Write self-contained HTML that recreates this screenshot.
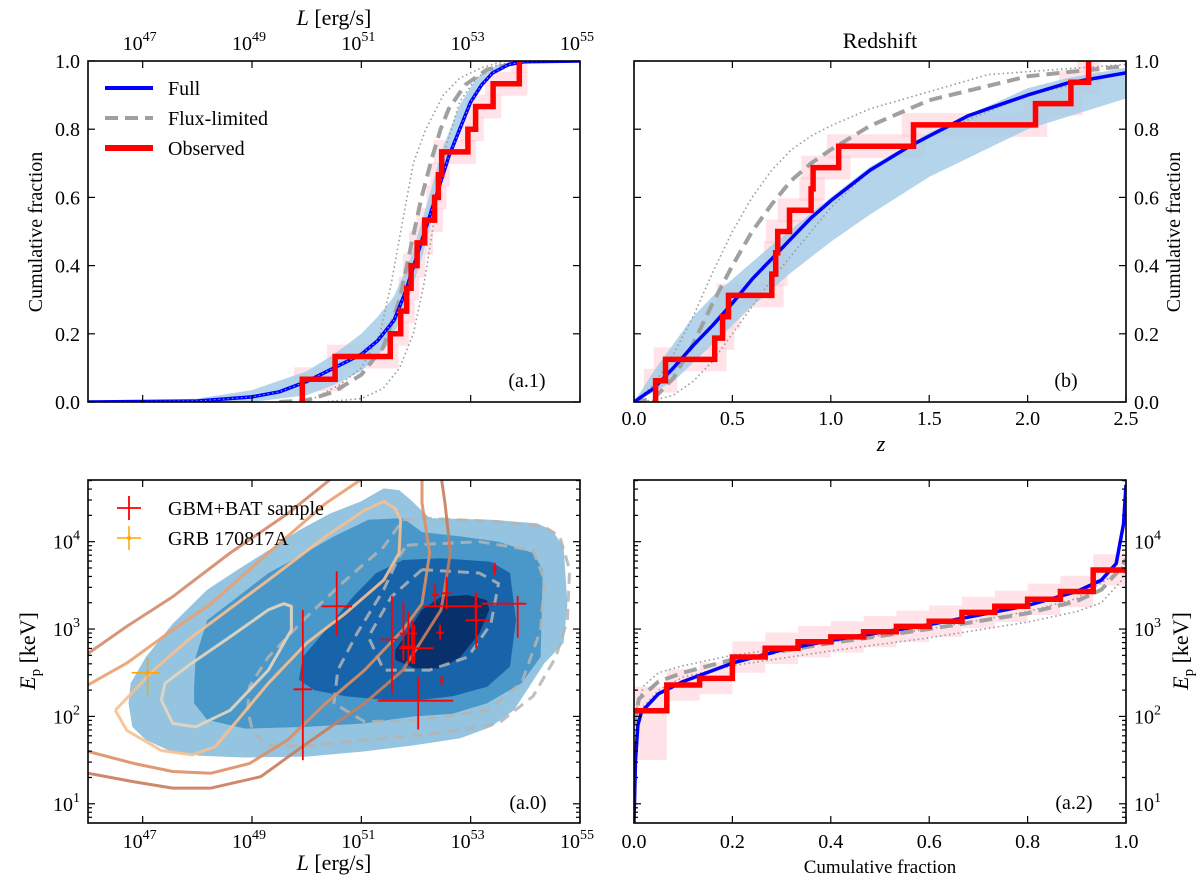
<!DOCTYPE html>
<html><head><meta charset="utf-8"><style>
body{margin:0;background:#fff}
svg{display:block;font-family:"Liberation Serif","DejaVu Serif",serif}
</style></head><body>
<svg id="fig" width="1200" height="887" viewBox="0 0 1200 887" xmlns="http://www.w3.org/2000/svg"></svg>
<script>
// ---------- data ----------
const obsL=[49.92,50.52,51.53,51.72,51.83,51.91,52.02,52.16,52.34,52.41,52.47,52.95,53.09,53.41,53.89];
const fullL_x=[46,48,49,49.5,50,50.5,51,51.3,51.6,51.8,52,52.2,52.4,52.6,52.8,53,53.2,53.4,53.7,54,55];
const fullL_y=[0,0.003,0.015,0.03,0.06,0.1,0.14,0.18,0.24,0.32,0.42,0.52,0.62,0.72,0.8,0.88,0.93,0.965,0.99,0.998,1];
const bandL_up_x=[46,47,48,49,50,50.5,51,51.3,51.6,51.9,52.2,52.5,52.8,53.1,53.5,54,55];
const bandL_up_y=[0,0.002,0.01,0.035,0.09,0.14,0.2,0.25,0.31,0.42,0.58,0.75,0.87,0.95,0.99,1,1];
const bandL_lo_x=[46,49,50,50.5,51,51.5,51.8,52.1,52.4,52.7,53,53.3,53.7,54.5,55];
const bandL_lo_y=[0,0,0.02,0.05,0.09,0.17,0.27,0.42,0.6,0.77,0.89,0.96,0.995,1,1];
const fluxL_x=[49.5,50,50.5,51,51.4,51.7,51.9,52.1,52.3,52.45,52.6,52.9,53.3,54,55];
const fluxL_y=[0,0.005,0.03,0.08,0.16,0.3,0.45,0.6,0.72,0.8,0.86,0.93,0.975,1,1];
const dotL1_x=[50,50.6,51,51.34,51.55,51.72,51.95,52.18,52.5,52.8,53.2,53.6,55];
const dotL1_y=[0,0.05,0.1,0.2,0.35,0.5,0.7,0.8,0.9,0.95,0.98,1,1];
const dotL2_x=[50.3,51,51.4,51.7,51.95,52.15,52.35,52.55,52.8,53.1,53.5,54,55];
const dotL2_y=[0,0.01,0.04,0.1,0.2,0.35,0.55,0.75,0.88,0.95,0.99,1,1];

const obsZ=[0.11,0.16,0.41,0.45,0.48,0.70,0.72,0.73,0.79,0.90,0.91,1.04,1.42,2.04,2.22,2.31];
const fullZ_x=[0,0.1,0.2,0.3,0.4,0.5,0.6,0.7,0.8,0.9,1.0,1.2,1.4,1.5,1.7,1.8,2.0,2.2,2.5];
const fullZ_y=[0,0.04,0.1,0.165,0.225,0.29,0.36,0.42,0.48,0.54,0.59,0.68,0.75,0.78,0.84,0.86,0.9,0.935,0.965];
const bandZ_up_x=[0,0.1,0.2,0.3,0.4,0.5,0.7,1.0,1.2,1.5,2.0,2.2,2.5];
const bandZ_up_y=[0,0.09,0.17,0.25,0.31,0.36,0.46,0.6,0.69,0.79,0.92,0.95,0.98];
const bandZ_lo_x=[0,0.2,0.4,0.6,0.8,1.0,1.2,1.5,2.0,2.5];
const bandZ_lo_y=[0,0.06,0.17,0.28,0.38,0.47,0.55,0.66,0.8,0.89];
const fluxZ_x=[0,0.1,0.2,0.3,0.4,0.5,0.6,0.7,0.8,0.9,1.0,1.2,1.5,2.0,2.5];
const fluxZ_y=[0,0.01,0.07,0.17,0.29,0.4,0.5,0.58,0.65,0.7,0.74,0.81,0.885,0.955,0.985];
const dotZ1_x=[0,0.1,0.2,0.3,0.4,0.5,0.6,0.7,0.8,0.9,1.0,1.2,1.5,1.8,2.5];
const dotZ1_y=[0,0.05,0.14,0.25,0.38,0.5,0.6,0.68,0.74,0.78,0.81,0.86,0.91,0.96,0.99];
const dotZ2_x=[0,0.1,0.2,0.3,0.4,0.5,0.6,0.7,0.8,1.0,1.2,1.5,2.0,2.5];
const dotZ2_y=[0,0.005,0.02,0.06,0.12,0.2,0.28,0.36,0.43,0.57,0.68,0.78,0.9,0.965];

const obsEp=[2.065,2.36,2.435,2.68,2.78,2.855,2.91,2.97,3.03,3.09,3.19,3.26,3.34,3.43,3.676];
const fullE_f=[0,0.003,0.008,0.015,0.05,0.1,0.2,0.3,0.4,0.5,0.6,0.7,0.8,0.9,0.95,0.98,0.995,1.0];
const fullE_y=[0.78,1.5,1.9,2.05,2.26,2.4,2.61,2.76,2.87,2.96,3.05,3.16,3.27,3.43,3.56,3.75,4.2,4.65];
const fluxE_f=[0,0.01,0.05,0.1,0.2,0.4,0.6,0.8,0.9,0.95,0.99,1];
const fluxE_y=[1.9,2.2,2.4,2.5,2.65,2.84,3.0,3.18,3.32,3.45,3.7,3.8];
const dotE1_f=[0,0.02,0.05,0.1,0.2,0.4,0.6,0.8,0.9,0.97,1];
const dotE1_y=[2.0,2.35,2.5,2.58,2.7,2.85,3.0,3.2,3.35,3.6,3.75];
const dotE2_f=[0,0.05,0.1,0.2,0.4,0.6,0.8,0.9,0.95,0.99,1];
const dotE2_y=[2.0,2.3,2.45,2.58,2.75,2.9,3.08,3.2,3.3,3.55,3.7];

const sampL  =[49.93,50.55,51.56,52.04,51.77,51.86,51.93,51.97,52.44,52.35,52.56,53.09,53.86,53.10,53.44,52.47];
const sampLlo=[49.76,50.27,51.34,51.30,51.70,51.72,51.85,51.69,52.37,52.28,52.46,52.14,53.20,52.90,53.40,52.44];
const sampLhi=[50.10,50.83,51.65,52.68,51.84,52.00,52.02,52.32,52.51,52.42,52.66,53.20,54.02,53.35,53.48,52.50];
const sampE  =[2.31,3.26,2.88,2.18,2.95,2.80,2.95,2.78,2.96,3.39,3.41,3.26,3.29,3.10,3.69,2.41];
const sampElo=[1.50,2.93,2.26,1.85,2.64,2.60,2.60,2.60,2.88,3.26,3.23,3.10,2.90,2.78,3.62,2.36];
const sampEhi=[3.22,3.66,3.38,2.45,3.31,3.20,3.10,3.05,3.05,3.52,3.60,3.40,3.38,3.42,3.76,2.46];
const grbL=[47.09], grbLlo=[46.8], grbLhi=[47.3], grbE=[2.50], grbElo=[2.24], grbEhi=[2.68];

const blue1=[[46.74,2.15],[46.81,1.88],[47.06,1.73],[47.48,1.61],[48.04,1.55],[48.88,1.53],[50.0,1.54],[51.06,1.6],[51.97,1.67],[52.81,1.75],[53.37,1.88],[53.79,2.07],[54.07,2.34],[54.35,2.61],[54.7,2.84],[54.77,3.29],[54.7,3.94],[54.49,4.13],[54.21,4.21],[53.37,4.25],[52.25,4.27],[51.9,4.48],[51.69,4.59],[51.41,4.61],[50.99,4.46],[50.42,4.32],[49.86,4.13],[49.3,3.9],[48.74,3.68],[48.18,3.45],[47.55,3.06],[47.06,2.68],[46.78,2.38]];
const blue2=[[47.94,2.15],[48.18,1.96],[48.88,1.86],[50.0,1.88],[51.06,1.92],[51.97,2.0],[52.67,2.03],[53.3,2.15],[53.93,2.38],[54.28,2.68],[54.32,3.68],[54.14,3.87],[53.51,4.0],[52.81,4.06],[52.11,4.11],[51.76,4.27],[51.13,4.25],[50.5,4.06],[49.86,3.83],[49.3,3.64],[48.74,3.37],[48.18,3.1],[47.97,2.68],[47.94,2.34]];
const blue3=[[49.86,2.42],[50.14,2.3],[50.71,2.23],[51.41,2.19],[52.11,2.19],[52.67,2.23],[53.3,2.34],[53.72,2.57],[53.83,3.1],[53.72,3.64],[53.37,3.77],[52.46,3.81],[51.76,3.79],[51.27,3.64],[50.85,3.37],[50.35,2.99],[49.93,2.68]];
const blue4=[[51.62,2.65],[51.97,2.55],[52.46,2.55],[52.81,2.68],[53.16,2.95],[53.34,3.22],[53.3,3.33],[52.95,3.39],[52.46,3.37],[52.11,3.22],[51.83,2.95],[51.62,2.76]];
const gray1=[[51.76,4.25],[52.11,4.27],[53.51,4.23],[54.35,4.17],[54.63,4.06],[54.81,3.68],[54.77,3.1],[54.56,2.68],[54.14,2.23],[53.51,1.92],[52.46,1.81],[51.06,1.73],[50.0,1.66],[49.3,1.67],[49.02,1.81],[48.92,2.07],[48.95,2.34],[49.3,2.68],[50.0,3.14],[50.71,3.56],[51.41,3.94],[51.76,4.25]];
const gray2=[[51.83,3.96],[53.16,4.0],[54.14,3.9],[54.35,3.56],[54.28,2.99],[53.93,2.38],[53.3,2.07],[52.11,1.96],[51.06,1.94],[50.5,2.15],[50.57,2.53],[50.92,2.95],[51.41,3.45],[51.69,3.83],[51.83,3.96]];
const gray3=[[52.11,3.68],[53.16,3.64],[53.51,3.52],[53.37,3.06],[52.95,2.68],[52.25,2.53],[51.41,2.53],[51.13,2.91],[51.55,3.37],[52.11,3.68]];
const orA=[[46.0,2.72],[46.71,3.03],[47.55,3.37],[48.6,3.87],[49.65,4.32],[50.35,4.67],[50.5,4.75]];
const orB=[[46.0,2.36],[46.71,2.61],[47.55,2.99],[48.25,3.29],[48.95,3.68],[49.65,4.06],[50.35,4.44],[50.99,4.71]];
const orC=[[46.5,2.07],[47.2,2.53],[47.9,2.91],[49.3,3.56],[50.35,4.06],[51.06,4.36],[51.41,4.46],[51.62,4.38],[51.72,4.25],[51.69,3.87],[51.41,3.56],[50.71,3.18],[50.0,2.84],[49.3,2.38],[48.74,1.96],[48.32,1.65],[47.9,1.56],[47.34,1.61],[46.71,1.84],[46.5,2.07]];
const orD=[[47.34,2.19],[47.55,1.92],[47.97,1.88],[48.6,2.07],[49.3,2.53],[49.72,2.99],[49.72,3.26],[49.58,3.29],[49.3,3.22],[48.6,2.91],[47.9,2.61],[47.41,2.38],[47.34,2.19]];
const orE=[[46.0,1.6],[46.85,1.46],[47.55,1.37],[48.25,1.35],[48.95,1.46],[49.65,1.73],[50.35,2.15],[51.06,2.53],[51.76,2.99],[52.11,3.29],[52.25,3.87],[52.11,4.44],[52.11,4.75]];
const orF=[[46.0,1.35],[46.85,1.25],[47.55,1.18],[48.25,1.18],[49.16,1.31],[50.0,1.69],[51.06,2.15],[51.76,2.53],[52.46,3.22],[52.63,3.87],[52.53,4.44],[52.46,4.75]];

const yFracTicks=[0,0.2,0.4,0.6,0.8,1.0];
const yFracLabels=["0.0","0.2","0.4","0.6","0.8","1.0"];
const lTicks=[47,49,51,53,55];
const zTicks=[0,0.5,1.0,1.5,2.0,2.5];
const zLabels=["0.0","0.5","1.0","1.5","2.0","2.5"];
const epTicks=[1,2,3,4];

// ---------- helpers ----------
const NS="http://www.w3.org/2000/svg";
const svg=document.getElementById('fig');
function mk(tag,attrs,parent){const e=document.createElementNS(NS,tag);for(const k in attrs)e.setAttribute(k,attrs[k]);(parent||svg).appendChild(e);return e;}
function lin(d0,d1,r0,r1){return v=>r0+(v-d0)/(d1-d0)*(r1-r0);}
const P={
 a1:{x:lin(46,55,88,580),y:lin(0,1,402,61),l:88,r:580,t:61,b:402},
 b:{x:lin(0,2.5,634,1126),y:lin(0,1,402,61),l:634,r:1126,t:61,b:402},
 a0:{x:lin(46,55,88,580),y:lin(0.78,4.706,823,480),l:88,r:580,t:480,b:823},
 a2:{x:lin(0,1,634,1126),y:lin(0.78,4.706,823,480),l:634,r:1126,t:480,b:823}
};
const defs=mk('defs',{});
for(const k in P){const c=document.createElementNS(NS,'clipPath');c.setAttribute('id','c'+k);const r=document.createElementNS(NS,'rect');r.setAttribute('x',P[k].l);r.setAttribute('y',P[k].t);r.setAttribute('width',P[k].r-P[k].l);r.setAttribute('height',P[k].b-P[k].t);c.appendChild(r);defs.appendChild(c);}
function grp(k,name){const g=mk('g',{'clip-path':'url(#c'+k+')'});return g;}
function pts(p,xs,ys){return xs.map((x,i)=>p.x(x).toFixed(1)+','+p.y(ys[i]).toFixed(1)).join(' ');}
function ptsPairs(p,arr){return arr.map(a=>p.x(a[0]).toFixed(1)+','+p.y(a[1]).toFixed(1)).join(' ');}
function line(g,p,xs,ys,st,name){const e=mk('polyline',Object.assign({points:pts(p,xs,ys),fill:'none','stroke-linejoin':'round'},st),g);return e;}
function band(g,p,ux,uy,lx,ly,name){const s=pts(p,ux,uy)+' '+pts(p,lx.slice().reverse(),ly.slice().reverse());const e=mk('polygon',{points:s,fill:'#a6cde6',opacity:0.85},g);}
function txt(x,y,s,attrs,name){const e=mk('text',Object.assign({x:x,y:y,'font-size':20,fill:'#000'},attrs||{}));e.textContent=s;return e;}
function pow10(x,y,exp,anchor,name){const e=mk('text',{x:x,y:y,'font-size':20,'text-anchor':anchor||'middle',fill:'#000'});const t1=document.createElementNS(NS,'tspan');t1.textContent='10';e.appendChild(t1);const t2=document.createElementNS(NS,'tspan');t2.setAttribute('dy','-9');t2.setAttribute('font-size','14');t2.textContent=exp;e.appendChild(t2);return e;}
function tick(x1,y1,x2,y2,name){const e=mk('line',{x1:x1,y1:y1,x2:x2,y2:y2,stroke:'#000','stroke-width':1.2});return e;}
function frame(p,name){const e=mk('rect',{x:p.l,y:p.t,width:p.r-p.l,height:p.b-p.t,fill:'none',stroke:'#000','stroke-width':1.6});}
function xticks(p,vals,len){vals.forEach(v=>{const x=p.x(v);tick(x,p.b,x,p.b-len,'x-tick');tick(x,p.t,x,p.t+len,'x-tick');});}
function yticks(p,vals,len){vals.forEach(v=>{const y=p.y(v);tick(p.l,y,p.l+len,y,'y-tick');tick(p.r,y,p.r-len,y,'y-tick');});}
function logMinor(p){const v=[];for(let d=0;d<5;d++)for(let m=2;m<10;m++){const l=d+Math.log10(m);if(l>0.78&&l<4.706)v.push(l);}yticks(p,v,4);}
function steps(g,p,vals,horizontal,name){let s=[];const n=vals.length;
 if(!horizontal){s.push([vals[0],0]);for(let i=0;i<n;i++){s.push([vals[i],(i+1)/n]);s.push([i+1<n?vals[i+1]:vals[i],(i+1)/n]);} }
 else{for(let i=0;i<n;i++){s.push([i/n,vals[i]]);s.push([(i+1)/n,vals[i]]);} }
 const e=mk('polyline',{points:ptsPairs(p,s),fill:'none',stroke:'#ff0000','stroke-width':5.5,'stroke-linejoin':'miter'},g);}
function pinkV(g,p,vals,d,name){const n=vals.length;for(let i=0;i<n;i++){const x0=p.x(vals[i]-d),x1=p.x((i+1<n?vals[i+1]:vals[i])+d);const y0=p.y((i+1)/n+0.035),y1=p.y((i+1)/n-0.035);const e=mk('rect',{x:x0,y:y0,width:Math.max(2,x1-x0),height:y1-y0,fill:'#ffc0cb',opacity:0.45},g);}}
const gs={stroke:'#a0a0a0','stroke-width':4,'stroke-dasharray':'13,7'};
const ds={stroke:'#999','stroke-width':1.6,'stroke-dasharray':'1.5,3'};
const bs={stroke:'#0000ff','stroke-width':3.5};

// ---------- panel a.1 ----------
{const p=P.a1,g=grp('a1','panel-a1-plot');
 pinkV(g,p,obsL,0.15,'observed-error-box');
 band(g,p,bandL_up_x,bandL_up_y,bandL_lo_x,bandL_lo_y,'full-model-band');
 line(g,p,dotL1_x,dotL1_y,ds,'flux-limited-bound-upper');
 line(g,p,dotL2_x,dotL2_y,ds,'flux-limited-bound-lower');
 line(g,p,fluxL_x,fluxL_y,gs,'flux-limited-cdf');
 line(g,p,fullL_x,fullL_y,bs,'full-cdf');
 line(g,p,fullL_x,fullL_y,{stroke:'#7fa8ff','stroke-width':1,'stroke-dasharray':'1.5,3'},'full-cdf-median');
 steps(g,p,obsL,false,'observed-cdf');
 frame(p,'panel-a1-frame');xticks(p,lTicks,7);yticks(p,yFracTicks,7);
 yFracTicks.forEach((v,i)=>txt(80,p.y(v)+7,yFracLabels[i],{'text-anchor':'end'},'y-tick-label'));
 lTicks.forEach(v=>pow10(p.x(v)-3,50,String(v),'middle','top-x-tick-label'));
 const tl=mk('text',{x:334,y:25,'font-size':22,'text-anchor':'middle'});tl.innerHTML='<tspan font-style="italic">L</tspan> [erg/s]';
 txt(42,232,'Cumulative fraction',{'text-anchor':'middle',transform:'rotate(-90 42 232)','font-size':20},'y-axis-title');
 txt(527,387,'(a.1)',{'text-anchor':'middle'},'panel-label');
 const l1=mk('line',{x1:105,y1:88,x2:153,y2:88,stroke:'#0000ff','stroke-width':4});
 txt(168,95,'Full',{},'legend-full');
 const l2=mk('line',{x1:105,y1:118,x2:153,y2:118,stroke:'#a0a0a0','stroke-width':4,'stroke-dasharray':'13,7'});
 txt(168,125,'Flux-limited',{},'legend-flux-limited');
 const l3=mk('line',{x1:105,y1:148,x2:153,y2:148,stroke:'#ff0000','stroke-width':6});
 txt(168,155,'Observed',{},'legend-observed');
}
// ---------- panel b ----------
{const p=P.b,g=grp('b','panel-b-plot');
 pinkV(g,p,obsZ,0.06,'observed-error-box');
 band(g,p,bandZ_up_x,bandZ_up_y,bandZ_lo_x,bandZ_lo_y,'full-model-band');
 line(g,p,dotZ1_x,dotZ1_y,ds,'flux-limited-bound-upper');
 line(g,p,dotZ2_x,dotZ2_y,ds,'flux-limited-bound-lower');
 line(g,p,fluxZ_x,fluxZ_y,gs,'flux-limited-cdf');
 line(g,p,fullZ_x,fullZ_y,bs,'full-cdf');
 steps(g,p,obsZ,false,'observed-cdf');
 frame(p,'panel-b-frame');xticks(p,zTicks,7);yticks(p,yFracTicks,7);
 yFracTicks.forEach((v,i)=>txt(1134,p.y(v)+7,yFracLabels[i],{},'y-tick-label'));
 zTicks.forEach((v,i)=>txt(p.x(v),425,zLabels[i],{'text-anchor':'middle'},'x-tick-label'));
 txt(881,451,'z',{'text-anchor':'middle','font-style':'italic','font-size':22},'x-axis-title');
 txt(880,48,'Redshift',{'text-anchor':'middle','font-size':22},'panel-title');
 txt(1180,232,'Cumulative fraction',{'text-anchor':'middle',transform:'rotate(-90 1180 232)'},'y-axis-title-right');
 txt(1066,387,'(b)',{'text-anchor':'middle'},'panel-label');
}
// ---------- panel a.0 ----------
{const p=P.a0,g=grp('a0','panel-a0-plot');
 [[blue1,'#94c4df'],[blue2,'#4a98c9'],[blue3,'#1764ab'],[blue4,'#08306b']].forEach((b,i)=>{const e=mk('polygon',{points:ptsPairs(p,b[0]),fill:b[1]},g);});
 [gray1,gray2,gray3].forEach(c=>{const e=mk('polyline',{points:ptsPairs(p,c),fill:'none',stroke:'#b4b4b4','stroke-width':3,'stroke-dasharray':'11,7',opacity:0.85},g);});
 [[orA,'#d4896a'],[orB,'#eb9e6e'],[orC,'#f8c08e'],[orD,'#e6d6c0'],[orE,'#dd8e62'],[orF,'#c97c5c']].forEach(c=>{const e=mk('polyline',{points:ptsPairs(p,c[0]),fill:'none',stroke:c[1],'stroke-width':3,opacity:0.9,'stroke-linejoin':'round'},g);});
 sampL.forEach((v,i)=>{
  const h=mk('line',{x1:p.x(sampLlo[i]),x2:p.x(sampLhi[i]),y1:p.y(sampE[i]),y2:p.y(sampE[i]),stroke:'#ff0000','stroke-width':1.8},g);
  const vv=mk('line',{x1:p.x(v),x2:p.x(v),y1:p.y(sampElo[i]),y2:p.y(sampEhi[i]),stroke:'#ff0000','stroke-width':1.8},g);});
 grbL.forEach((v,i)=>{
  const h=mk('line',{x1:p.x(grbLlo[i]),x2:p.x(grbLhi[i]),y1:p.y(grbE[i]),y2:p.y(grbE[i]),stroke:'#ffa500','stroke-width':1.5},g);
  const vv=mk('line',{x1:p.x(v),x2:p.x(v),y1:p.y(grbElo[i]),y2:p.y(grbEhi[i]),stroke:'#ffa500','stroke-width':1.5},g);
  const c=mk('circle',{cx:p.x(v),cy:p.y(grbE[i]),r:2,fill:'#ffa500'},g);});
 frame(p,'panel-a0-frame');xticks(p,lTicks,7);yticks(p,epTicks,7);logMinor(p);
 lTicks.forEach(v=>pow10(p.x(v)-3,848,String(v),'middle','x-tick-label'));
 epTicks.forEach(v=>pow10(80,p.y(v)+7,String(v),'end','y-tick-label'));
 const xl=mk('text',{x:334,y:870,'font-size':22,'text-anchor':'middle'});xl.innerHTML='<tspan font-style="italic">L</tspan> [erg/s]';
 const yl=mk('text',{x:0,y:0,'font-size':22,'text-anchor':'middle',transform:'translate(35 651) rotate(-90)'});yl.innerHTML='<tspan font-style="italic">E</tspan><tspan font-size="15" dy="5">p</tspan><tspan dy="-5"> [keV]</tspan>';
 txt(528,809,'(a.0)',{'text-anchor':'middle'},'panel-label');
 const m1=mk('line',{x1:117,x2:141,y1:508,y2:508,stroke:'#ff0000','stroke-width':1.8});
 const m2=mk('line',{x1:129,x2:129,y1:496,y2:520,stroke:'#ff0000','stroke-width':1.8});
 txt(168,515,'GBM+BAT sample',{},'legend-gbm-bat-sample');
 const m3=mk('line',{x1:117,x2:141,y1:538,y2:538,stroke:'#ffa500','stroke-width':1.5});
 const m4=mk('line',{x1:129,x2:129,y1:526,y2:550,stroke:'#ffa500','stroke-width':1.5});
 const m5=mk('circle',{cx:129,cy:538,r:2,fill:'#ffa500'});
 txt(168,545,'GRB 170817A',{},'legend-grb-170817a');
}
// ---------- panel a.2 ----------
{const p=P.a2,g=grp('a2','panel-a2-plot');
 obsEp.forEach((v,i)=>{const n=obsEp.length;const lo=i===0?1.5:v-0.18,hi=i===0?2.34:v+0.18;const e=mk('rect',{x:p.x(i/n),y:p.y(hi),width:p.x((i+1)/n)-p.x(i/n),height:p.y(lo)-p.y(hi),fill:'#ffc0cb',opacity:0.45},g);});
 line(g,p,dotE1_f,dotE1_y,ds,'flux-limited-bound-upper');
 line(g,p,dotE2_f,dotE2_y,ds,'flux-limited-bound-lower');
 line(g,p,fluxE_f,fluxE_y,gs,'flux-limited-cdf');
 line(g,p,fullE_f,fullE_y,bs,'full-cdf');
 steps(g,p,obsEp,true,'observed-cdf');
 frame(p,'panel-a2-frame');xticks(p,[0,0.2,0.4,0.6,0.8,1.0],7);yticks(p,epTicks,7);logMinor(p);
 ["0.0","0.2","0.4","0.6","0.8","1.0"].forEach((s,i)=>txt(p.x(i*0.2),848,s,{'text-anchor':'middle'},'x-tick-label'));
 epTicks.forEach(v=>pow10(1134,p.y(v)+7,String(v),'start','y-tick-label'));
 txt(880,873,'Cumulative fraction',{'text-anchor':'middle','font-size':19},'x-axis-title');
 const yl=mk('text',{x:0,y:0,'font-size':22,'text-anchor':'middle',transform:'translate(1188 651) rotate(-90)'});yl.innerHTML='<tspan font-style="italic">E</tspan><tspan font-size="15" dy="5">p</tspan><tspan dy="-5"> [keV]</tspan>';
 txt(1074,809,'(a.2)',{'text-anchor':'middle'},'panel-label');
}
</script>
</body></html>
